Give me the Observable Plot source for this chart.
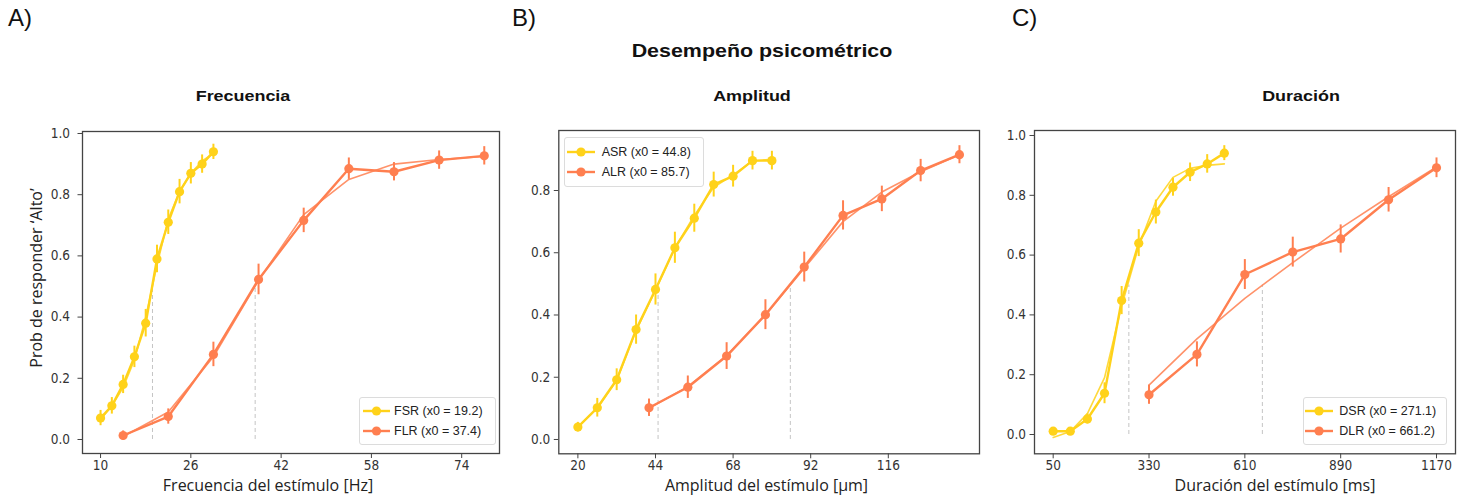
<!DOCTYPE html>
<html><head><meta charset="utf-8">
<script src="https://cdn.jsdelivr.net/npm/d3@7"></script>
<script src="https://cdn.jsdelivr.net/npm/@observablehq/plot@0.6"></script>
<style>
body{margin:0;background:#fff;}
#fig{position:relative;width:1466px;height:497px;overflow:hidden;font-family:"Liberation Sans",Arial,sans-serif;color:#111;}
.abs{position:absolute;white-space:nowrap;line-height:1;}
.panel{position:absolute;}
.lgbox{position:absolute;border:1px solid #dcdcdc;border-radius:3px;background:rgba(255,255,255,0.85);box-sizing:border-box;}
.lgtext{position:absolute;white-space:nowrap;line-height:1;font-size:12.5px;color:#222;}
</style></head><body><div id="fig"></div>
<script>
// ---------------- data ----------------
const GOLD = "#FFD21A", CORAL = "#FF7F50";

// Panel A: Frecuencia
const freqSR_x   = [10,12,14,16,18,20,22,24,26,28,30];
const freqSR_y   = [0.07,0.11,0.18,0.27,0.38,0.59,0.71,0.81,0.87,0.90,0.94];
const freqSR_err = [0.025,0.027,0.03,0.035,0.045,0.045,0.04,0.04,0.035,0.03,0.025];
const freqSR_fit = [0.065,0.11,0.17,0.26,0.40,0.57,0.72,0.81,0.87,0.91,0.935];
const freqLR_x   = [14,22,30,38,46,54,62,70,78];
const freqLR_y   = [0.013,0.075,0.278,0.523,0.716,0.885,0.875,0.913,0.927];
const freqLR_err = [0.015,0.025,0.04,0.05,0.04,0.035,0.03,0.03,0.03];
const freqLR_fit = [0.01,0.09,0.27,0.52,0.735,0.85,0.90,0.915,0.925];
const freqX0 = [19.2, 37.4];
const freqTicks = [10,26,42,58,74];

// Panel B: Amplitud
const ampSR_x   = [20,26,32,38,44,50,56,62,68,74,80];
const ampSR_y   = [0.04,0.102,0.192,0.353,0.482,0.616,0.711,0.819,0.846,0.896,0.896];
const ampSR_err = [0.015,0.03,0.035,0.047,0.05,0.05,0.045,0.04,0.035,0.03,0.03];
const ampSR_fit = [0.04,0.10,0.19,0.35,0.48,0.615,0.72,0.81,0.85,0.895,0.90];
const ampLR_x   = [42,54,66,78,90,102,114,126,138];
const ampLR_y   = [0.102,0.168,0.268,0.401,0.554,0.72,0.773,0.864,0.915];
const ampLR_err = [0.028,0.036,0.043,0.048,0.048,0.047,0.041,0.036,0.029];
const ampLR_fit = [0.10,0.17,0.27,0.40,0.55,0.70,0.795,0.86,0.915];
const ampX0 = [44.8, 85.7];
const ampTicks = [20,44,68,92,116];

// Panel C: Duración
const durSR_x   = [50,100,150,200,250,300,350,400,450,500,550];
const durSR_y   = [0.011,0.011,0.052,0.138,0.448,0.64,0.744,0.827,0.877,0.905,0.941];
const durSR_err = [0.011,0.011,0.017,0.035,0.047,0.045,0.04,0.03,0.031,0.031,0.025];
const durSR_fit = [-0.01,0.01,0.07,0.19,0.43,0.63,0.78,0.86,0.89,0.90,0.905];
const durLR_x   = [330,470,610,750,890,1030,1170];
const durLR_y   = [0.133,0.268,0.535,0.61,0.654,0.785,0.892];
const durLR_err = [0.032,0.042,0.05,0.05,0.047,0.041,0.033];
const durLR_fit = [0.165,0.32,0.455,0.575,0.69,0.795,0.895];
const durX0 = [271.1, 661.2];
const durTicks = [50,330,610,890,1170];

const yTicksFull = [0,0.2,0.4,0.6,0.8,1.0];
const yTicksB = [0,0.2,0.4,0.6,0.8];

// ---------------- helpers ----------------
const rows = (xs, ys, es) => xs.map((x,i) => ({x, y: ys[i], e: es ? es[i] : 0}));
const fig = document.getElementById("fig");

function seriesMarks(xs, ys, es, fit, color) {
  const d = rows(xs, ys, es), f = rows(xs, fit);
  return [
    Plot.line(f, {x:"x", y:"y", stroke: color, strokeWidth: 1.6, strokeOpacity: 0.85}),
    Plot.line(d, {x:"x", y:"y", stroke: color, strokeWidth: 2.4}),
    Plot.ruleX(d, {x:"x", y1: r => r.y - r.e, y2: r => r.y + r.e, stroke: color, strokeWidth: 2}),
    Plot.dot(d, {x:"x", y:"y", r: 4.6, fill: color, stroke: "none"})
  ];
}

function panel(cfg) {
  const p = Plot.plot({
    width: cfg.w, height: cfg.h,
    marginLeft: cfg.ml, marginRight: cfg.mr, marginTop: cfg.mt, marginBottom: cfg.mb,
    x: {domain: cfg.xd},
    y: {domain: cfg.yd},
    style: {fontSize: "13.5px", fontFamily: "'DejaVu Sans Condensed','Liberation Sans Narrow','Liberation Sans',sans-serif", color: "#333", background: "transparent", overflow: "visible"},
    marks: [
      Plot.ruleX(cfg.x0, {x: d => d, y1: 0, y2: 0.5, stroke: "#c4c4c4", strokeWidth: 1, strokeDasharray: "4,3"}),
      ...seriesMarks(...cfg.sr, GOLD),
      ...seriesMarks(...cfg.lr, CORAL),
      Plot.axisX({ticks: cfg.xt, tickFormat: d3.format("d"), tickSize: 5, tickPadding: 2, label: null, stroke: "#444"}),
      Plot.axisY({ticks: cfg.yt, tickFormat: d3.format(".1f"), tickSize: 4.5, tickPadding: cfg.tp, label: null, stroke: "#444"}),
      Plot.frame({stroke: "#444", strokeWidth: 1.3})
    ]
  });
  p.classList.add("panel");
  p.style.left = cfg.left + "px";
  p.style.top = cfg.top + "px";
  fig.appendChild(p);
}

panel({left: 0, top: 110, w: 510, h: 387, ml: 82, mr: 11, mt: 21, mb: 44, tp: 8,
  xd: [6.8, 80.7], yd: [-0.0458, 1.0065], xt: freqTicks, yt: yTicksFull, x0: freqX0,
  sr: [freqSR_x, freqSR_y, freqSR_err, freqSR_fit], lr: [freqLR_x, freqLR_y, freqLR_err, freqLR_fit]});
panel({left: 510, top: 110, w: 470, h: 387, ml: 48.3, mr: 1, mt: 20, mb: 43.7, tp: 4,
  xd: [14.1, 144.2], yd: [-0.046, 0.9928], xt: ampTicks, yt: yTicksB, x0: ampX0,
  sr: [ampSR_x, ampSR_y, ampSR_err, ampSR_fit], lr: [ampLR_x, ampLR_y, ampLR_err, ampLR_fit]});
panel({left: 985, top: 110, w: 481, h: 387, ml: 49, mr: 11, mt: 20, mb: 43.7, tp: 4,
  xd: [-4.6, 1225.5], yd: [-0.0645, 1.0167], xt: durTicks, yt: yTicksFull, x0: durX0,
  sr: [durSR_x, durSR_y, durSR_err, durSR_fit], lr: [durLR_x, durLR_y, durLR_err, durLR_fit]});

// ---------------- text ----------------
function text(str, opts) {
  const d = document.createElement("div");
  d.className = "abs";
  d.textContent = str;
  Object.assign(d.style, opts);
  fig.appendChild(d);
  return d;
}
// panel letters
text("A)", {left: "8px", top: "6px", fontSize: "24px", color: "#111"});
text("B)", {left: "512px", top: "6px", fontSize: "24px", color: "#111"});
text("C)", {left: "1012px", top: "6px", fontSize: "24px", color: "#111"});
// main title
text("Desempeño psicométrico", {left: "762px", top: "41.5px", fontSize: "18px", fontWeight: "bold",
  transform: "translateX(-50%) scaleX(1.19)", color: "#111"});
// subtitles
[["Frecuencia", 242.5], ["Amplitud", 752], ["Duración", 1301]].forEach(([s, cx]) =>
  text(s, {left: cx + "px", top: "88.9px", fontSize: "14px", fontWeight: "bold",
    transform: "translateX(-50%) scaleX(1.28)", color: "#111"}));
// axis labels
[["Frecuencia del estímulo [Hz]", 268], ["Amplitud del estímulo [μm]", 766.5], ["Duración del estímulo [ms]", 1275]].forEach(([s, cx]) =>
  text(s, {left: cx + "px", top: "477px", fontSize: "16px", lineHeight: "16px", fontFamily: "'Open Sans',sans-serif",
    transform: "translateX(-50%)", color: "#222"}));
text("Prob de responder ‘Alto’", {left: "36px", top: "278px", fontSize: "16px", fontFamily: "'Open Sans',sans-serif",
  transform: "translate(-50%,-50%) rotate(-90deg)", color: "#222"});

// ---------------- legends ----------------
function legend(box, sw0, sw1, tx, rowYs, items) {
  const b = document.createElement("div");
  b.className = "lgbox";
  Object.assign(b.style, {left: box[0] + "px", top: box[1] + "px", width: (box[2]-box[0]) + "px", height: (box[3]-box[1]) + "px"});
  fig.appendChild(b);
  items.forEach(([label, color], i) => {
    const cy = rowYs[i];
    const ns = "http://www.w3.org/2000/svg";
    const s = document.createElementNS(ns, "svg");
    s.setAttribute("width", sw1 - sw0); s.setAttribute("height", 12);
    s.style.position = "absolute"; s.style.left = sw0 + "px"; s.style.top = (cy - 6) + "px";
    const l = document.createElementNS(ns, "line");
    l.setAttribute("x1", 0); l.setAttribute("x2", sw1 - sw0); l.setAttribute("y1", 6); l.setAttribute("y2", 6);
    l.setAttribute("stroke", color); l.setAttribute("stroke-width", 2.4);
    const c = document.createElementNS(ns, "circle");
    c.setAttribute("cx", (sw1 - sw0) / 2); c.setAttribute("cy", 6); c.setAttribute("r", 4.6); c.setAttribute("fill", color);
    s.appendChild(l); s.appendChild(c); fig.appendChild(s);
    const t = document.createElement("div");
    t.className = "lgtext"; t.textContent = label;
    t.style.left = tx + "px"; t.style.top = (cy + 4.5 - 10.6) + "px";
    fig.appendChild(t);
  });
}
legend([359.3, 396.7, 495.7, 445], 363, 390, 394, [410.7, 430.7], [["FSR (x0 = 19.2)", GOLD], ["FLR (x0 = 37.4)", CORAL]]);
legend([564, 137, 704, 187], 567, 595, 601.7, [152.3, 171.7], [["ASR (x0 = 44.8)", GOLD], ["ALR (x0 = 85.7)", CORAL]]);
legend([1302.7, 396.7, 1446.7, 445], 1305, 1333, 1339.3, [410.7, 430.7], [["DSR (x0 = 271.1)", GOLD], ["DLR (x0 = 661.2)", CORAL]]);
</script></body></html>
